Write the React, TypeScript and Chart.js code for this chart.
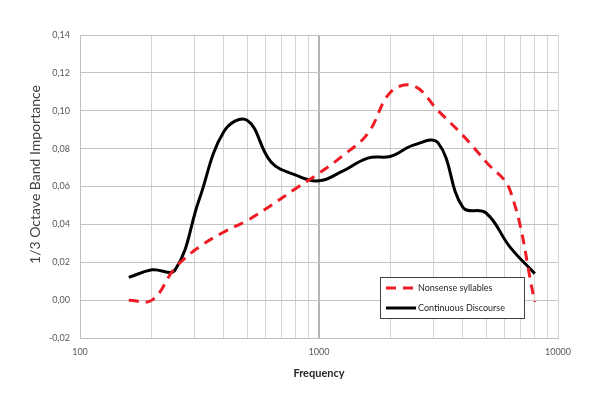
import React, { useEffect, useRef } from "react";
import { Chart, registerables } from "chart.js";

Chart.register(...registerables);

const frequencies = [160, 200, 250, 315, 400, 500, 630, 800, 1000, 1250, 1600, 2000, 2500, 3150, 4000, 5000, 6300, 8000];
const nonsenseSyllables = [0.0, 0.0, 0.017, 0.028, 0.036, 0.042, 0.05, 0.059, 0.067, 0.076, 0.088, 0.11, 0.113, 0.1, 0.087, 0.073, 0.058, -0.001];
const continuousDiscourse = [0.012, 0.016, 0.016, 0.053, 0.089, 0.095, 0.073, 0.066, 0.063, 0.068, 0.075, 0.076, 0.082, 0.083, 0.049, 0.046, 0.028, 0.014];
const xTicks = [100, 200, 300, 400, 500, 600, 700, 800, 900, 1000, 2000, 3000, 4000, 5000, 6000, 7000, 8000, 9000, 10000];
const xLabels = [100, 1000, 10000];
const seriesNames = ["Nonsense syllables", "Continuous Discourse"];
const yTitle = "1/3 Octave Band Importance";
const xTitle = "Frequency";

const FONT = "Lato, 'Open Sans', sans-serif";

const legendPlugin = {
  id: "insideLegend",
  afterDatasetsDraw(chart: any) {
    const { ctx, chartArea } = chart;
    const w = 144;
    const h = 41;
    const x0 = chartArea.right - 34 - w;
    const y0 = chartArea.bottom - 20 - h;
    ctx.save();
    ctx.fillStyle = "#ffffff";
    ctx.fillRect(x0, y0, w, h);
    ctx.strokeStyle = "#404040";
    ctx.lineWidth = 1;
    ctx.strokeRect(x0 + 0.5, y0 + 0.5, w, h);
    chart.data.datasets.forEach((ds: any, i: number) => {
      const cy = y0 + 11 + i * 20;
      ctx.beginPath();
      ctx.strokeStyle = ds.borderColor;
      ctx.lineWidth = 3;
      ctx.setLineDash(ds.borderDash || []);
      ctx.moveTo(x0 + 6, cy);
      ctx.lineTo(x0 + 36, cy);
      ctx.stroke();
      ctx.setLineDash([]);
      ctx.fillStyle = "#262626";
      ctx.font = "9px " + FONT;
      ctx.textBaseline = "middle";
      ctx.textAlign = "left";
      ctx.fillText(ds.label, x0 + 38, cy);
    });
    ctx.restore();
  },
};

const yTitlePlugin = {
  id: "yTitle",
  afterDraw(chart: any) {
    const { ctx, chartArea } = chart;
    ctx.save();
    ctx.translate(35, (chartArea.top + chartArea.bottom) / 2 - 12);
    ctx.rotate(-Math.PI / 2);
    ctx.fillStyle = "#404040";
    ctx.font = "14px " + FONT;
    ctx.textAlign = "center";
    ctx.textBaseline = "middle";
    ctx.fillText(yTitle, 0, 0);
    ctx.restore();
  },
};

export default function App() {
  const canvasRef = useRef<HTMLCanvasElement | null>(null);

  useEffect(() => {
    if (!canvasRef.current) return;
    const chart = new Chart(canvasRef.current, {
      type: "line",
      data: {
        datasets: [
          {
            label: seriesNames[0],
            data: frequencies.map((f, i) => ({ x: f, y: nonsenseSyllables[i] })),
            borderColor: "#ee1c25",
            borderWidth: 3,
            borderDash: [10, 7],
            pointRadius: 0,
            tension: 0.4,
            fill: false,
          },
          {
            label: seriesNames[1],
            data: frequencies.map((f, i) => ({ x: f, y: continuousDiscourse[i] })),
            borderColor: "#000000",
            borderWidth: 3,
            pointRadius: 0,
            tension: 0.4,
            fill: false,
          },
        ],
      },
      options: {
        animation: false,
        responsive: false,
        maintainAspectRatio: false,
        layout: { padding: { left: 27, right: 34, top: 35, bottom: 14 } },
        plugins: {
          legend: { display: false },
          tooltip: { enabled: false },
        },
        scales: {
          x: {
            type: "logarithmic",
            min: 100,
            max: 10000,
            afterBuildTicks: (scale: any) => {
              scale.ticks = xTicks.map((v) => ({ value: v }));
            },
            afterFit: (scale: any) => {
              scale.height = 42;
            },
            ticks: {
              autoSkip: false,
              maxRotation: 0,
              padding: 9,
              color: "#595959",
              font: { family: FONT, size: 9 },
              callback: (v: any) => (xLabels.includes(Number(v)) ? String(v) : ""),
            },
            grid: {
              drawTicks: false,
              color: (c: any) => (c.tick && c.tick.value === 1000 ? "#b3b3b3" : "#d4d4d4"),
              lineWidth: (c: any) => (c.tick && c.tick.value === 1000 ? 2 : 1),
            },
            border: { color: "#bfbfbf", width: 1 },
            title: {
              display: true,
              text: xTitle,
              color: "#262626",
              font: { family: FONT, size: 11, weight: "bold" },
              padding: 0,
            },
          },
          y: {
            min: -0.02,
            max: 0.14,
            afterFit: (scale: any) => {
              scale.width = 53;
            },
            ticks: {
              stepSize: 0.02,
              padding: 10,
              color: "#595959",
              font: { family: FONT, size: 9 },
              callback: (v: any) => Number(v).toFixed(2).replace(".", ","),
            },
            grid: {
              drawTicks: false,
              color: "#c4c4c4",
              lineWidth: 1,
            },
            border: { color: "#bfbfbf", width: 1 },
            title: { display: false },
          },
        },
      },
      plugins: [legendPlugin, yTitlePlugin],
    } as any);
    return () => chart.destroy();
  }, []);

  return (
    <div style={{ position: "fixed", left: 0, top: 0, width: 592, height: 394, background: "#ffffff" }}>
      <canvas ref={canvasRef} width={592} height={394} style={{ width: 592, height: 394 }} />
    </div>
  );
}
